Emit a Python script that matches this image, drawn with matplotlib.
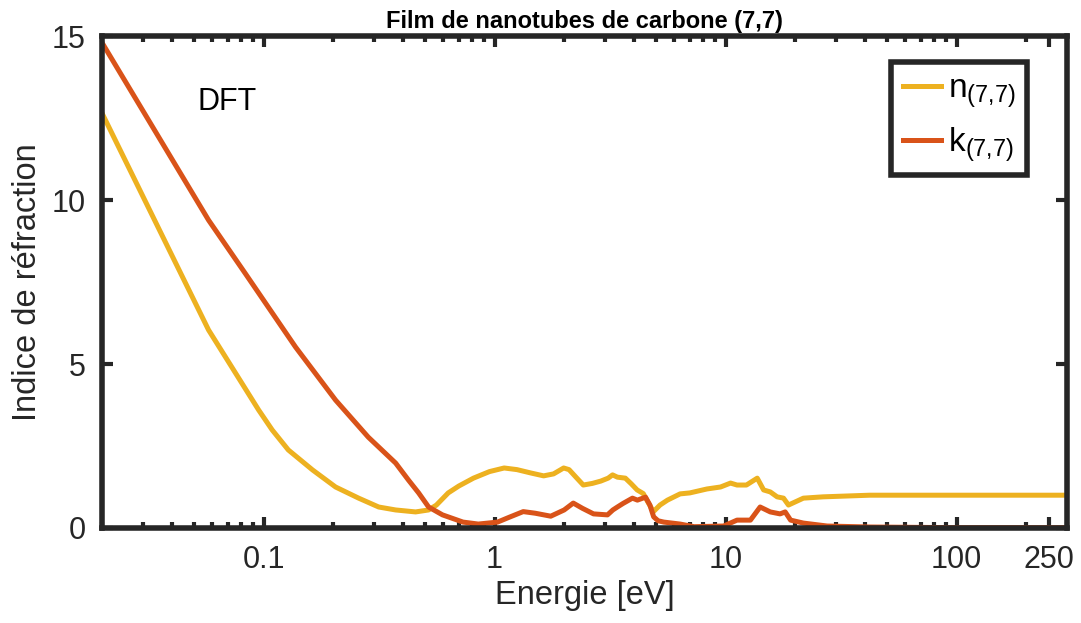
import matplotlib
matplotlib.use("Agg")
import matplotlib.pyplot as plt
from matplotlib.ticker import LogLocator, NullFormatter, FixedLocator, FixedFormatter

# n(E) and k(E) of the (7,7) carbon nanotube film
energy_n = [0.02, 0.0578, 0.0952, 0.109, 0.128, 0.163, 0.205, 0.258, 0.315,
            0.373, 0.455, 0.518, 0.56, 0.63, 0.7, 0.81, 0.95, 1.1, 1.25, 1.43,
            1.63, 1.8, 1.99, 2.1, 2.25, 2.42, 2.65, 2.88, 3.1, 3.24, 3.4, 3.68,
            3.9, 4.14, 4.4, 4.6, 4.87, 5.2, 5.6, 6.35, 7.0, 8.3, 9.5, 10.5, 11.2,
            12.3, 13.7, 14.6, 15.6, 16.7, 17.8, 18.7, 21.7, 26.4, 42, 100, 300]
n_values = [12.65, 6.04, 3.6, 2.99, 2.38, 1.77, 1.25, 0.91, 0.64,
            0.55, 0.49, 0.55, 0.7, 1.07, 1.28, 1.52, 1.72, 1.83, 1.78, 1.68,
            1.59, 1.65, 1.83, 1.78, 1.55, 1.31, 1.36, 1.43, 1.52, 1.62, 1.55, 1.52,
            1.35, 1.16, 1.05, 0.8, 0.5, 0.7, 0.85, 1.04, 1.07, 1.19, 1.25, 1.37, 1.31,
            1.31, 1.52, 1.16, 1.10, 0.95, 0.91, 0.70, 0.91, 0.95, 1.0, 1.0, 1.0]

energy_k = [0.02, 0.0578, 0.0836, 0.1375, 0.205, 0.284, 0.373, 0.424, 0.469, 0.518,
            0.595, 0.73, 0.85, 1.03, 1.15, 1.33, 1.5, 1.75, 2.0, 2.19, 2.4, 2.68,
            3.08, 3.25, 3.4, 3.6, 3.95, 4.15, 4.5, 4.7, 4.88, 5.1, 5.4, 6.35, 7.3,
            9.8, 11.2, 12.8, 14.1, 15.6, 17.2, 18.1, 19.1, 21.7, 27.5, 42, 100, 300]
k_values = [14.8, 9.39, 7.75, 5.52, 3.9, 2.77, 1.98, 1.46, 1.07, 0.64,
            0.40, 0.18, 0.12, 0.18, 0.32, 0.5, 0.45, 0.36, 0.55, 0.76, 0.6, 0.43,
            0.40, 0.55, 0.64, 0.75, 0.91, 0.85, 0.94, 0.7, 0.34, 0.22, 0.18, 0.12, 0.04,
            0.06, 0.24, 0.24, 0.64, 0.49, 0.43, 0.49, 0.24, 0.15, 0.06, 0.03, 0.01, 0.01]

x_ticks = [0.1, 1, 10, 100, 250]
x_tick_labels = ["0.1", "1", "10", "100", "250"]
y_ticks = [0, 5, 10, 15]

plt.rcParams["font.family"] = ["Liberation Sans", "DejaVu Sans"]
plt.rcParams["mathtext.default"] = "regular"

AX_COLOR = "#262626"

fig = plt.figure(figsize=(10.81, 6.23), dpi=100)
ax = fig.add_axes([0.0944, 0.1525, 0.8926, 0.7895])

ax.plot(energy_n, n_values, color="#EDB120", linewidth=3.6, label="n$_{(7{,}7)}$",
        solid_joinstyle="round")
ax.plot(energy_k, k_values, color="#D95319", linewidth=3.6, label="k$_{(7{,}7)}$",
        solid_joinstyle="round")

ax.set_xscale("log")
ax.set_xlim(0.02, 300)
ax.set_ylim(0, 15)

ax.xaxis.set_major_locator(FixedLocator(x_ticks))
ax.xaxis.set_major_formatter(FixedFormatter(x_tick_labels))
ax.xaxis.set_minor_locator(LogLocator(base=10, subs=range(2, 10), numticks=20))
ax.xaxis.set_minor_formatter(NullFormatter())
ax.set_yticks(y_ticks)

for side in ax.spines.values():
    side.set_linewidth(4)
    side.set_color(AX_COLOR)
ax.tick_params(which="both", direction="in", top=True, right=True,
               color=AX_COLOR, labelcolor=AX_COLOR, width=3)
ax.tick_params(which="major", length=8, labelsize=22, pad=12)
ax.tick_params(which="minor", length=4)

ax.set_xlabel("Energie [eV]", fontsize=23.5, color=AX_COLOR, labelpad=4)
ax.set_ylabel("Indice de réfraction", fontsize=23.5, color=AX_COLOR, labelpad=6)
ax.set_title("Film de nanotubes de carbone (7,7)", fontsize=17, fontweight="bold",
             color="black", pad=6)

ax.text(0.0698, 13.0, "DFT", fontsize=22, ha="center", va="center")

leg = ax.legend(loc="upper right", bbox_to_anchor=(0.9585, 0.947), fontsize=24,
                frameon=True, fancybox=False, framealpha=1, handlelength=1.15,
                handletextpad=0.2, borderpad=0.35, labelspacing=0.45, borderaxespad=0)
leg.get_frame().set_edgecolor(AX_COLOR)
leg.get_frame().set_linewidth(4)

fig.savefig("out.png", dpi=100)
